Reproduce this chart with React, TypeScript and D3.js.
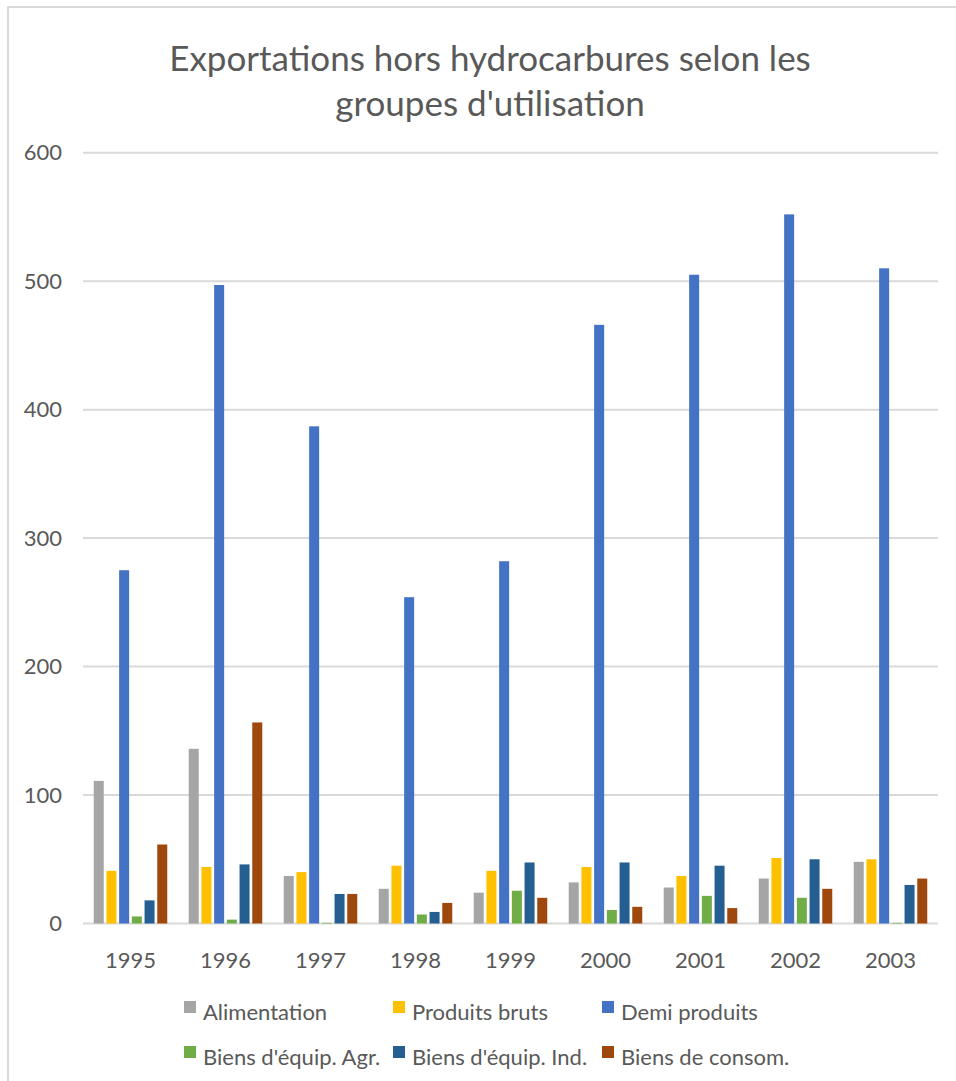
import React from "react";
import * as d3 from "d3";

const years = ["1995", "1996", "1997", "1998", "1999", "2000", "2001", "2002", "2003"];
const seriesNames = [
  "Alimentation",
  "Produits bruts",
  "Demi produits",
  "Biens d'équip. Agr.",
  "Biens d'équip. Ind.",
  "Biens de consom.",
];
const seriesColors = ["#A5A5A5", "#FFC000", "#4472C4", "#70AD47", "#255E91", "#9E480E"];

const alimentation = [111, 136, 37, 27, 24, 32, 28, 35, 48];
const produitsBruts = [41, 44, 40, 45, 41, 44, 37, 51, 50];
const demiProduits = [275, 497, 387, 254, 282, 466, 505, 552, 510];
const biensEquipAgr = [5.5, 3, 0.5, 7, 25.5, 10.5, 21.5, 20, 0.5];
const biensEquipInd = [18, 46, 23, 9, 47.5, 47.5, 45, 50, 30];
const biensConsom = [61.5, 156.5, 23, 16, 20, 13, 12, 27, 35];

const seriesValues = [alimentation, produitsBruts, demiProduits, biensEquipAgr, biensEquipInd, biensConsom];
const yTicks = [0, 100, 200, 300, 400, 500, 600];

const W = 956;
const H = 1081;
const plotLeft = 83;
const plotRight = 938;
const plotTop = 152.7;
const plotBottom = 923.5;
const FONT = "Lato, 'Open Sans', sans-serif";
const TEXT = "#595959";

export default function App() {
  const x0 = d3.scaleBand<string>().domain(years).range([plotLeft, plotRight]).padding(0);
  const bw = x0.bandwidth();
  const g = bw * 0.113;
  const x1 = d3
    .scaleBand<number>()
    .domain(d3.range(seriesNames.length))
    .range([g, bw - g])
    .paddingInner(0.2126)
    .paddingOuter(0);
  const y = d3.scaleLinear().domain([0, 600]).range([plotBottom, plotTop]);

  const legendCols = [184, 393, 602];
  const legendRows = [1012, 1057];

  return (
    <svg
      width={W}
      height={H}
      style={{ position: "absolute", left: 0, top: 0, background: "#fff" }}
      fontFamily={FONT}
    >
      <rect x={0} y={0} width={W} height={H} fill="#fff" />
      <rect x={8} y={7} width={W + 20} height={H + 20} fill="none" stroke="#D9D9D9" strokeWidth={2} />
      <text x={490} y={71} textAnchor="middle" fontSize={35} fill={TEXT}>
        Exportations hors hydrocarbures selon les
      </text>
      <text x={490} y={116} textAnchor="middle" fontSize={35} fill={TEXT}>
        groupes d'utilisation
      </text>
      {yTicks.map((t) => (
        <g key={t}>
          <line x1={plotLeft} x2={plotRight} y1={y(t)} y2={y(t)} stroke="#D9D9D9" strokeWidth={2} />
          <text x={62} y={y(t)} dy="0.35em" textAnchor="end" fontSize={22} fill={TEXT}>
            {t}
          </text>
        </g>
      ))}
      {years.map((yr, i) => (
        <g key={yr} transform={`translate(${x0(yr)},0)`}>
          {seriesValues.map((vals, s) => (
            <rect
              key={s}
              x={x1(s)}
              y={y(vals[i])}
              width={x1.bandwidth()}
              height={plotBottom - y(vals[i])}
              fill={seriesColors[s]}
            />
          ))}
          <text x={bw / 2} y={960} dy="0.35em" textAnchor="middle" fontSize={22} fill={TEXT}>
            {yr}
          </text>
        </g>
      ))}
      {seriesNames.map((name, s) => {
        const cx = legendCols[s % 3];
        const cy = legendRows[Math.floor(s / 3)];
        return (
          <g key={name}>
            <rect x={cx} y={cy - 11} width={12} height={12} fill={seriesColors[s]} />
            <text x={cx + 19} y={cy} dy="0.35em" fontSize={22} fill={TEXT}>
              {name}
            </text>
          </g>
        );
      })}
    </svg>
  );
}
